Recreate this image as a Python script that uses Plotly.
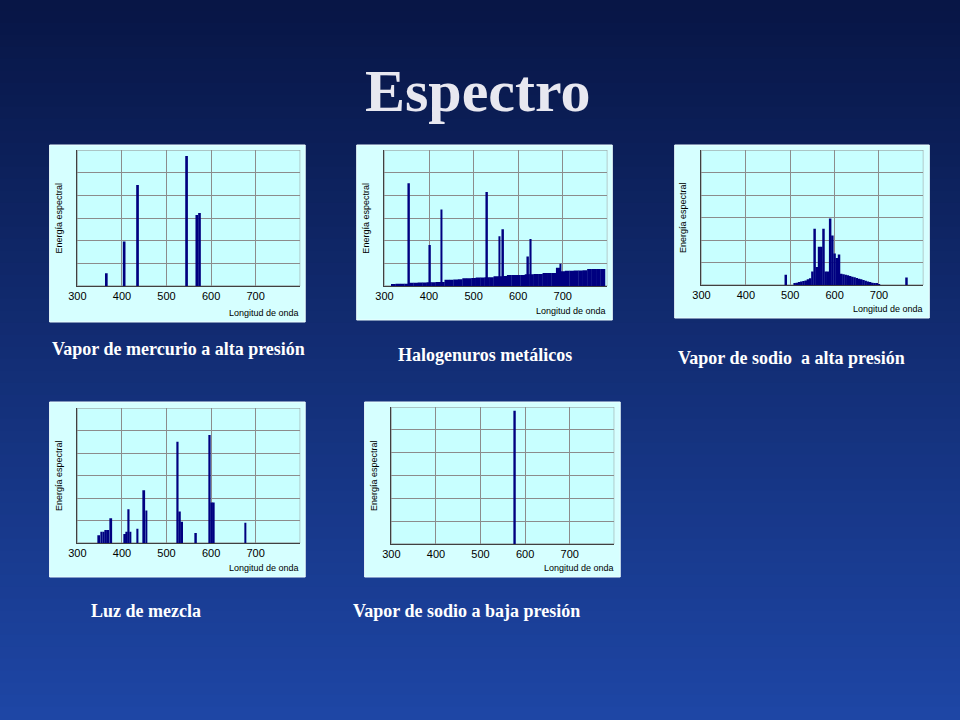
import plotly.graph_objects as go

W, H = 960, 720

# ---- data ----
p1_x = [365, 405, 435, 545, 568, 574]
p1_y = [0.56, 1.96, 4.46, 5.74, 3.13, 3.22]

p2_cont_x = [320, 330, 340, 350, 360, 370, 380, 390, 400, 410, 420, 430, 440, 450, 460, 470, 480, 490, 500,
             510, 520, 530, 540, 550, 560, 570, 580, 590, 600, 610, 620, 630, 640, 650, 660, 670, 680,
             690, 700, 710, 720, 730, 740, 750, 760, 770, 780, 790]
p2_cont_y = [0.08, 0.1, 0.1, 0.1, 0.14, 0.14, 0.15, 0.15, 0.17, 0.17, 0.18, 0.18, 0.28, 0.28, 0.29, 0.3, 0.34, 0.34, 0.35,
             0.38, 0.38, 0.39, 0.39, 0.43, 0.43, 0.44, 0.48, 0.48, 0.49, 0.49, 0.52, 0.52, 0.53, 0.53, 0.57, 0.57, 0.57,
             0.8, 0.65, 0.67, 0.67, 0.68, 0.68, 0.7, 0.75, 0.75, 0.75, 0.75]
p2_x = [355, 402, 428, 530, 558, 566, 622, 628, 695]
p2_y = [4.53, 1.81, 3.37, 4.15, 2.2, 2.5, 1.3, 2.07, 0.98]

p3_x = [490, 510, 515, 520, 525, 530, 535, 540, 545, 550, 555, 560, 565, 570, 575, 580, 585, 590, 595, 600,
        605, 610, 615, 620, 625, 630, 635, 640, 645, 650, 655, 660, 665, 670, 675, 680, 685, 690, 695, 700, 762]
p3_y = [0.45, 0.05, 0.1, 0.13, 0.15, 0.18, 0.2, 0.25, 0.3, 0.6, 2.5, 0.8, 1.7, 1.7, 2.5, 0.6, 0.6, 2.95, 2.2, 1.4,
        1.2, 1.35, 0.5, 0.48, 0.46, 0.43, 0.4, 0.37, 0.34, 0.31, 0.28, 0.25, 0.22, 0.19, 0.16, 0.13, 0.1, 0.08,
        0.06, 0.04, 0.33]

p4_x = [349, 354, 359, 364, 369, 376, 407, 411, 415, 419, 435, 450, 455, 525, 530, 535, 566, 597, 602, 606, 677]
p4_y = [0.35, 0.5, 0.5, 0.58, 0.58, 1.1, 0.4, 0.5, 1.5, 0.5, 0.63, 2.35, 1.45, 4.5, 1.4, 0.95, 0.45, 4.8, 1.8, 1.8, 0.9]

p5_x = [577]
p5_y = [5.84]

x_ticks = [300, 400, 500, 600, 700]
titles = ["Vapor de mercurio a alta presión", "Halogenuros metálicos", "Vapor de sodio  a alta presión",
          "Luz de mezcla", "Vapor de sodio a baja presión"]

panels = [
    ((49, 307, 145, 322), (77, 302, 150, 286), (179, 349)),
    ((359, 617, 145, 320), (387, 612, 150, 286), (488, 355)),
    ((680, 937, 145, 318), (707, 931, 150, 285), (798, 358)),
    ((49, 307, 402, 577), (77, 302, 408, 543), (146, 611)),
    ((367, 625, 402, 577), (394, 619, 407, 544), (470, 611)),
]
series = [
    [(p1_x, p1_y, 6)],
    [(p2_cont_x, p2_cont_y, 10.6), (p2_x, p2_y, 4)],
    [(p3_x, p3_y, 5.6)],
    [(p4_x, p4_y, 4)],
    [(p5_x, p5_y, 4)],
]

XOFF = 8
fx = lambda px: (px - XOFF) / W
fy = lambda py: 1 - py / H

fig = go.Figure()
shapes = []
annotations = []

top = (8, 22, 70)
bot = (30, 70, 165)
n = 60
for i in range(n):
    t = i / (n - 1)
    c = tuple(int(top[k] + (bot[k] - top[k]) * t) for k in range(3))
    shapes.append(dict(type="rect", xref="paper", yref="paper", x0=-0.05, x1=1.05,
                       y0=1 - (i + 1) / n, y1=1 - i / n + 0.002, line=dict(width=0),
                       fillcolor="rgb(%d,%d,%d)" % c, layer="below"))

layout = dict(width=W, height=H, margin=dict(l=0, r=0, t=0, b=0), showlegend=False,
              paper_bgcolor="rgb(20,45,120)", barmode="overlay")

for i, ((fx0, fx1, fy0, fy1), (px0, px1, py0, py1), (tx, ty)) in enumerate(panels):
    k = i + 1
    xr = "x" if k == 1 else "x%d" % k
    yr = "y" if k == 1 else "y%d" % k
    shapes.append(dict(type="rect", xref="paper", yref="paper", x0=fx(fx0), x1=fx(fx1),
                       y0=fy(fy1), y1=fy(fy0), fillcolor="#d6ffff", line=dict(color="#eeffff", width=1),
                       layer="below"))
    layout["xaxis" if k == 1 else "xaxis%d" % k] = dict(
        domain=[max(0, fx(px0)), min(1, fx(px1))], range=[300, 800], anchor=yr,
        tickvals=x_ticks + [800], ticktext=[str(v) for v in x_ticks] + [""],
        showgrid=True, gridcolor="#8c8c8c", gridwidth=1, showline=True, linecolor="#404040",
        ticks="", tickfont=dict(family="Arial", size=11, color="black"), zeroline=False, fixedrange=True)
    layout["yaxis" if k == 1 else "yaxis%d" % k] = dict(
        domain=[fy(py1), fy(py0)], range=[0, 6], anchor=xr,
        tickvals=[0, 1, 2, 3, 4, 5, 6], showticklabels=False, showgrid=True,
        gridcolor="#8c8c8c", showline=True, linecolor="#404040", ticks="", zeroline=False, fixedrange=True)
    shapes.append(dict(type="rect", xref=xr, yref=yr, x0=300, x1=800, y0=0, y1=6, fillcolor="#c8ffff",
                       line=dict(color="#8c8c8c", width=1), layer="below"))
    for xs, ys, w in series[i]:
        fig.add_trace(go.Bar(x=xs, y=ys, width=w, marker=dict(color="#000080", line=dict(width=0)),
                             xaxis=xr, yaxis=yr))
    annotations.append(dict(xref="paper", yref="paper", x=fx(fx1 - 4), y=fy(fy1 - 2), xanchor="right",
                            yanchor="bottom", text="Longitud de onda", showarrow=False,
                            font=dict(family="Arial", size=9, color="black")))
    annotations.append(dict(xref="paper", yref="paper", x=fx(fx0 + 9), y=fy((py0 + py1) / 2),
                            xanchor="center", yanchor="middle", text="Energía espectral", textangle=-90,
                            showarrow=False, font=dict(family="Arial", size=9, color="black")))
    annotations.append(dict(xref="paper", yref="paper", x=fx(tx), y=fy(ty), xanchor="center",
                            yanchor="middle", text="<b>%s</b>" % titles[i], showarrow=False,
                            font=dict(family="Liberation Serif", size=18, color="white")))

annotations.append(dict(xref="paper", yref="paper", x=fx(481), y=fy(91), xanchor="center", yanchor="middle",
                        text="<b>Espectro</b>", showarrow=False,
                        font=dict(family="Liberation Serif", size=60, color="#e8e8f0")))

layout["shapes"] = shapes
layout["annotations"] = annotations
fig.update_layout(**layout)
fig.write_html("out.html", config={"displayModeBar": False},
               post_script=("document.body.style.margin='0';document.body.style.overflow='hidden';"
                            "document.body.style.background='rgb(20,45,120)';"))
